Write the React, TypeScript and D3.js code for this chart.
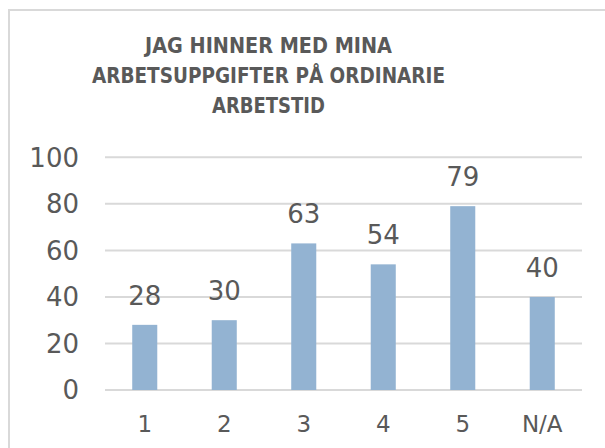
import { useEffect, useRef } from "react";
import * as d3 from "d3";

const categories = ["1", "2", "3", "4", "5", "N/A"];
const values = [28, 30, 63, 54, 79, 40];
const yTicks = [0, 20, 40, 60, 80, 100];
const titleLines = ["JAG HINNER MED MINA", "ARBETSUPPGIFTER PÅ ORDINARIE", "ARBETSTID"];
const titleWidths = [247, 353, 113];

export default function App() {
  const ref = useRef<SVGSVGElement>(null);

  useEffect(() => {
    if (!ref.current) return;
    const svg = d3.select(ref.current);
    svg.selectAll("*").remove();

    const width = 605;
    const height = 448;
    const font = "'DejaVu Sans', sans-serif";
    const textColor = "#595959";

    // chart border
    svg
      .append("rect")
      .attr("x", 9)
      .attr("y", 10)
      .attr("width", width + 20)
      .attr("height", height + 20)
      .attr("fill", "white")
      .attr("stroke", "#d9d9d9")
      .attr("stroke-width", 2);

    // title, squeezed to the reference line widths
    svg
      .append("g")
      .selectAll("text")
      .data(titleLines)
      .enter()
      .append("text")
      .attr("x", 268.5)
      .attr("y", (_, i) => 53 + i * 30)
      .attr("text-anchor", "middle")
      .attr("textLength", (_, i) => titleWidths[i])
      .attr("lengthAdjust", "spacingAndGlyphs")
      .style("font-family", font)
      .style("font-weight", "bold")
      .style("font-size", "22px")
      .style("fill", textColor)
      .text((d) => d);

    const x = d3
      .scaleBand()
      .domain(categories)
      .range([105, 582])
      .paddingInner(0.685)
      .paddingOuter(0.3425);

    const y = d3.scaleLinear().domain([0, 100]).range([390, 157.3]);

    // gridlines
    svg
      .append("g")
      .selectAll("line")
      .data(yTicks)
      .enter()
      .append("line")
      .attr("x1", 105)
      .attr("x2", 582)
      .attr("y1", (d) => y(d))
      .attr("y2", (d) => y(d))
      .attr("stroke", "#d9d9d9")
      .attr("stroke-width", 2);

    // y labels
    svg
      .append("g")
      .selectAll("text")
      .data(yTicks)
      .enter()
      .append("text")
      .attr("x", 79)
      .attr("y", (d) => y(d))
      .attr("dy", "0.36em")
      .attr("text-anchor", "end")
      .style("font-family", font)
      .style("font-size", "26px")
      .style("fill", textColor)
      .text((d) => d);

    // bars
    svg
      .append("g")
      .selectAll("rect")
      .data(values)
      .enter()
      .append("rect")
      .attr("x", (_, i) => x(categories[i])!)
      .attr("y", (d) => y(d))
      .attr("width", x.bandwidth())
      .attr("height", (d) => y(0) - y(d))
      .attr("fill", "#93b3d2");

    // value labels
    svg
      .append("g")
      .selectAll("text")
      .data(values)
      .enter()
      .append("text")
      .attr("x", (_, i) => x(categories[i])! + x.bandwidth() / 2)
      .attr("y", (d) => y(d) - 20)
      .attr("text-anchor", "middle")
      .style("font-family", font)
      .style("font-size", "26px")
      .style("fill", textColor)
      .text((d) => d);

    // x labels
    svg
      .append("g")
      .selectAll("text")
      .data(categories)
      .enter()
      .append("text")
      .attr("x", (d) => x(d)! + x.bandwidth() / 2)
      .attr("y", 432)
      .attr("text-anchor", "middle")
      .style("font-family", font)
      .style("font-size", "23px")
      .style("fill", textColor)
      .text((d) => d);
  }, []);

  return (
    <svg
      ref={ref}
      width={605}
      height={448}
      style={{ position: "absolute", left: 0, top: 0, background: "white" }}
    />
  );
}
